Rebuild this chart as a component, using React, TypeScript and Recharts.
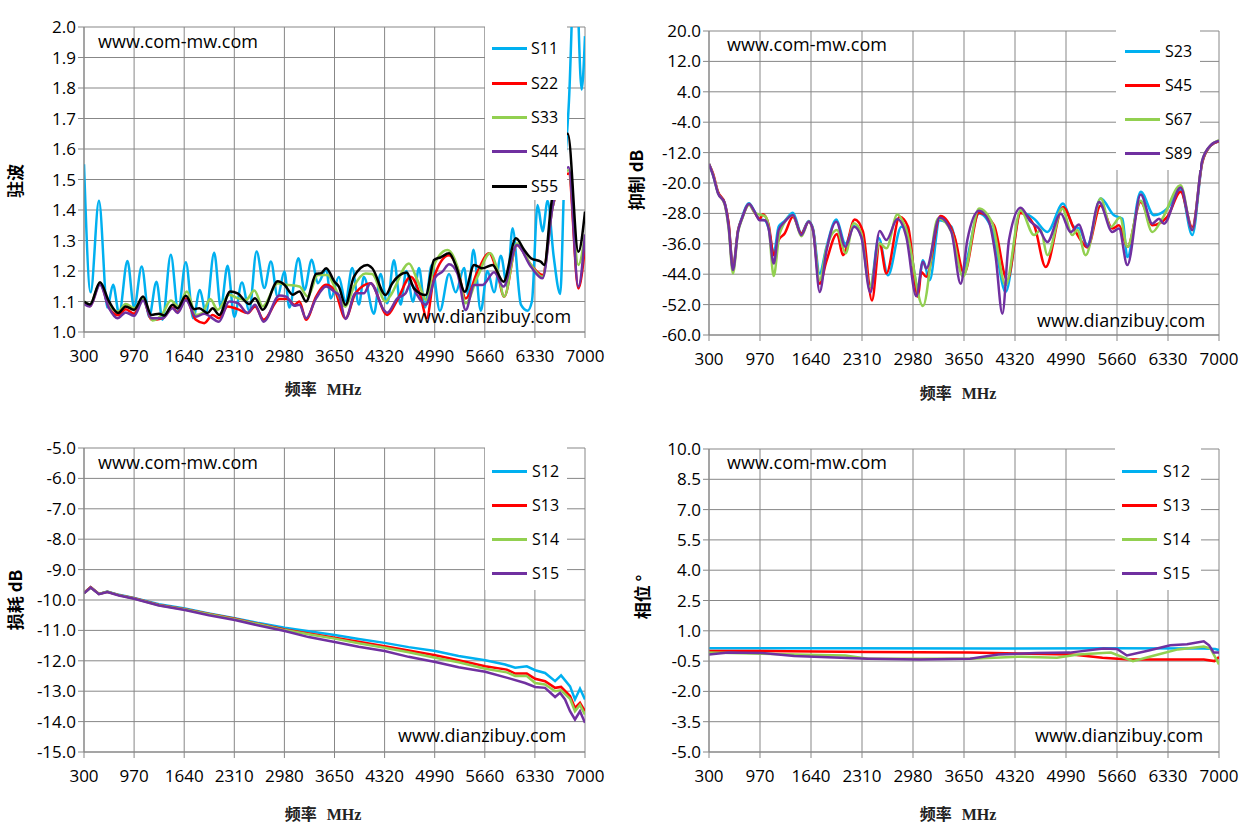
import React from "react"
import { LineChart, Line, XAxis, YAxis, CartesianGrid } from "recharts"

// frequency axis (MHz)
const freqTicks = [300, 970, 1640, 2310, 2980, 3650, 4320, 4990, 5660, 6330, 7000]

// --- VSWR (top left) ---
const vswrTicks = [1.0, 1.1, 1.2, 1.3, 1.4, 1.5, 1.6, 1.7, 1.8, 1.9, 2.0]
const s11Freq = [300,389,500,612,689,770,881,970,1072,1171,1269,1350,1461,1560,1662,1760,1850,1930,2041,2130,2220,2310,2412,2510,2608,2711,2800,2889,2980,3047,3168,3248,3346,3427,3540,3600,3708,3797,3887,3976,4043,4177,4266,4355,4445,4534,4610,4700,4780,4860,4950,5060,5182,5271,5383,5440,5508,5606,5695,5785,5874,5960,6031,6143,6232,6290,6366,6433,6500,6580,6669,6720,6786,6870,6955,7000]
const s11Vswr = [1.55,1.13,1.43,1.08,1.155,1.06,1.233,1.08,1.215,1.05,1.165,1.04,1.253,1.07,1.229,1.045,1.138,1.06,1.26,1.08,1.217,1.05,1.162,1.07,1.264,1.144,1.231,1.115,1.198,1.08,1.242,1.138,1.237,1.16,1.205,1.11,1.18,1.10,1.21,1.09,1.18,1.06,1.19,1.094,1.235,1.09,1.20,1.10,1.21,1.08,1.22,1.07,1.19,1.13,1.21,1.12,1.27,1.07,1.2,1.13,1.25,1.15,1.34,1.09,1.07,1.1,1.416,1.33,1.43,1.25,1.125,1.48,1.76,2.25,1.795,1.97]
const s22Freq = [300,380,514,635,756,858,970,1090,1202,1350,1484,1551,1662,1796,1908,2020,2105,2221,2354,2489,2587,2703,2913,3025,3114,3181,3270,3404,3538,3650,3797,3931,4132,4355,4490,4668,4802,4883,4981,5182,5294,5405,5562,5718,5830,5919,6089,6277,6433,6567,6781,6911,7000]
const s22Vswr = [1.095,1.085,1.16,1.08,1.055,1.075,1.06,1.11,1.04,1.045,1.08,1.065,1.11,1.04,1.029,1.056,1.045,1.084,1.075,1.062,1.084,1.04,1.108,1.108,1.089,1.10,1.04,1.116,1.155,1.138,1.045,1.127,1.16,1.056,1.105,1.181,1.116,1.045,1.18,1.252,1.209,1.11,1.198,1.258,1.192,1.116,1.285,1.22,1.187,1.41,1.52,1.143,1.28]
const s33Freq = [300,380,514,635,756,858,970,1090,1216,1350,1461,1560,1676,1796,1880,1988,2087,2243,2354,2467,2578,2690,2891,3003,3181,3293,3427,3560,3650,3797,3909,4066,4155,4333,4400,4646,4758,4883,4981,5160,5294,5405,5562,5731,5830,5919,6089,6277,6433,6567,6781,6911,7000]
const s33Vswr = [1.10,1.09,1.16,1.09,1.067,1.092,1.078,1.11,1.038,1.06,1.103,1.084,1.133,1.056,1.062,1.108,1.073,1.122,1.111,1.105,1.136,1.084,1.16,1.155,1.149,1.116,1.187,1.187,1.149,1.083,1.149,1.192,1.19,1.10,1.12,1.225,1.17,1.105,1.22,1.269,1.214,1.094,1.181,1.258,1.203,1.116,1.29,1.22,1.181,1.41,1.53,1.22,1.32]
const s44Freq = [300,380,514,635,747,858,970,1090,1202,1350,1484,1551,1662,1796,1908,2105,2243,2354,2489,2587,2703,2913,3003,3114,3181,3270,3404,3538,3650,3708,3797,3931,4043,4132,4311,4355,4490,4601,4668,4735,4870,5003,5093,5182,5294,5405,5517,5629,5785,5910,6089,6277,6433,6567,6781,6911,7000]
const s44Vswr = [1.092,1.084,1.155,1.078,1.045,1.064,1.053,1.103,1.045,1.045,1.078,1.062,1.105,1.05,1.06,1.034,1.10,1.095,1.062,1.089,1.034,1.12,1.116,1.086,1.089,1.045,1.11,1.149,1.132,1.121,1.043,1.127,1.127,1.16,1.072,1.063,1.11,1.127,1.16,1.13,1.089,1.181,1.198,1.222,1.192,1.072,1.154,1.154,1.196,1.149,1.285,1.214,1.176,1.41,1.54,1.149,1.32]
const s55Freq = [300,380,514,635,756,858,970,1090,1202,1305,1372,1484,1551,1662,1774,1841,1953,2020,2109,2256,2354,2511,2587,2690,2891,2980,3092,3181,3270,3404,3471,3538,3650,3708,3797,3909,4088,4155,4333,4423,4615,4713,4870,4981,5070,5182,5285,5392,5517,5629,5763,5910,6076,6187,6277,6410,6455,6544,6770,6911,7000]
const s55Vswr = [1.10,1.09,1.163,1.10,1.062,1.084,1.073,1.116,1.056,1.06,1.054,1.089,1.078,1.119,1.075,1.078,1.062,1.078,1.056,1.133,1.127,1.092,1.111,1.073,1.166,1.155,1.122,1.133,1.10,1.191,1.193,1.209,1.165,1.149,1.089,1.181,1.22,1.209,1.121,1.16,1.195,1.143,1.121,1.236,1.245,1.258,1.209,1.132,1.22,1.209,1.22,1.165,1.307,1.269,1.242,1.23,1.22,1.41,1.65,1.263,1.395]

// --- rejection dB (top right) ---
const rejTicks = [-60, -52, -44, -36, -28, -20, -12, -4, 4, 12, 20]
const s23Freq = [300,353,418,506,558,615,681,734,826,900,966,1031,1084,1150,1215,1294,1403,1513,1609,1666,1754,1841,1973,2091,2205,2301,2419,2530,2652,2827,2892,3046,3111,3199,3330,3483,3630,3847,4022,4197,4394,4570,4745,4951,5090,5161,5270,5446,5621,5731,5796,5971,6146,6321,6496,6649,6781,6890,7000]
const s23Db = [-15,-17.9,-22.5,-25.2,-31,-42,-32.5,-29,-25.3,-27.5,-29.6,-29.8,-32,-38.5,-31.5,-30,-27.8,-33.2,-30,-32,-43.8,-37,-29.6,-36,-31.3,-34,-47.3,-34.5,-44.3,-31.5,-31.7,-47.3,-40.3,-45.6,-29.8,-31.5,-43,-28,-32.4,-48.7,-27.6,-29.4,-32.9,-25.4,-31.5,-31.9,-36.3,-24.1,-28.5,-29.4,-39.5,-22.3,-28.5,-26.7,-21.7,-33.7,-14.5,-10.2,-9.0]
const s45Freq = [300,353,418,506,558,615,681,734,826,900,966,1009,1084,1150,1215,1294,1403,1513,1609,1666,1754,1841,1982,2060,2214,2323,2441,2542,2630,2805,2915,3046,3089,3155,3339,3527,3650,3847,4044,4219,4394,4570,4723,4951,5095,5182,5270,5446,5599,5686,5796,5971,6124,6321,6496,6649,6781,6890,7000]
const s45Db = [-15,-17.5,-22.3,-25.3,-30.5,-42.5,-32.5,-29.3,-25.6,-27.8,-29.5,-28.2,-31,-39,-35,-33.3,-28.9,-33.3,-30.2,-32.4,-46.5,-40.7,-33.4,-39,-29.6,-32.8,-50.9,-35.9,-43.8,-28.9,-31.5,-50,-43.4,-44.7,-28.7,-34.2,-43.8,-27.8,-31.1,-45.6,-27.9,-31.1,-42.1,-26.3,-32,-35,-37,-25.9,-32,-31.1,-36.8,-25,-31.1,-28.9,-22.3,-31.6,-14.5,-10.2,-9.0]
const s67Freq = [300,353,418,506,558,615,681,734,826,900,1044,1084,1150,1228,1403,1513,1609,1666,1754,1841,1982,2095,2201,2301,2411,2542,2630,2774,2892,3111,3309,3483,3637,3847,4022,4197,4394,4570,4657,4745,4941,5073,5138,5248,5446,5577,5700,5796,5971,6124,6255,6496,6649,6781,6890,7000]
const s67Db = [-15,-17.8,-22.6,-25.6,-32,-43.8,-33,-29.5,-25.7,-27.8,-28.9,-31.5,-44.5,-33.3,-28.5,-34,-30.2,-32.4,-45.6,-37.4,-32.4,-38.5,-30.6,-33.3,-47.3,-35.9,-37.2,-28.3,-32.4,-52.4,-29.3,-32.8,-44.7,-26.7,-30.6,-46.9,-27.2,-33.7,-32.4,-39,-26.7,-33.7,-32.4,-39,-24.1,-31.6,-29.1,-36.8,-24.7,-32.9,-29.4,-20.6,-32.4,-14,-10.1,-8.7]
const s89Freq = [300,353,418,506,558,615,681,734,826,900,966,1031,1084,1150,1215,1294,1403,1513,1609,1666,1754,1841,1973,2091,2205,2301,2419,2542,2630,2774,2892,3024,3111,3155,3330,3483,3606,3694,3847,3978,4066,4154,4241,4394,4526,4635,4745,4920,5051,5161,5270,5424,5599,5686,5796,5971,6124,6212,6277,6496,6649,6781,6890,7000]
const s89Db = [-15,-17.9,-22.7,-25.4,-31.5,-42.9,-32.8,-29.3,-25.5,-27.6,-29.8,-29.8,-32,-41.2,-32.4,-30.2,-28.4,-33.7,-30.2,-32.4,-48.7,-38.1,-30.2,-36.8,-31.5,-34.2,-48.9,-32.6,-35,-29.5,-34.2,-49.8,-40.7,-42.5,-29.1,-32.8,-46.5,-35,-27.3,-30.2,-39.4,-54.4,-35,-26.5,-30.2,-32,-35.5,-28,-32.9,-30.9,-36.8,-25,-32.9,-32,-41.6,-23,-30.7,-29.4,-30.7,-21.2,-32.4,-14,-10.1,-8.9]

// --- insertion loss dB (bottom left) ---
const lossTicks = [-15, -14, -13, -12, -11, -10, -9, -8, -7, -6, -5]
const loss12Freq = [300,389,500,612,767,970,1302,1649,1970,2317,2637,2985,3305,3652,3973,4320,4641,4997,5309,5665,5932,6066,6222,6333,6466,6600,6680,6800,6866,6933,7000]
const loss12Db = [-9.77,-9.58,-9.8,-9.72,-9.83,-9.93,-10.14,-10.28,-10.44,-10.6,-10.76,-10.91,-11.03,-11.15,-11.28,-11.41,-11.55,-11.68,-11.84,-11.98,-12.12,-12.23,-12.18,-12.31,-12.4,-12.67,-12.48,-12.84,-13.27,-12.92,-13.27]
const loss13Freq = [300,389,500,612,767,970,1302,1649,1970,2317,2637,2985,3305,3652,3973,4320,4641,4997,5309,5665,5954,6066,6222,6333,6466,6600,6680,6800,6866,6933,7000]
const loss13Db = [-9.77,-9.58,-9.8,-9.73,-9.84,-9.94,-10.16,-10.3,-10.46,-10.62,-10.79,-10.97,-11.1,-11.24,-11.37,-11.52,-11.66,-11.82,-11.98,-12.18,-12.29,-12.42,-12.42,-12.59,-12.67,-12.89,-12.86,-13.16,-13.55,-13.38,-13.66]
const loss14Freq = [300,389,500,612,767,970,1302,1649,1970,2317,2637,2985,3305,3652,3973,4320,4641,4997,5309,5665,5954,6066,6222,6333,6466,6600,6680,6800,6866,6933,7000]
const loss14Db = [-9.78,-9.59,-9.8,-9.73,-9.84,-9.95,-10.17,-10.31,-10.47,-10.63,-10.8,-10.99,-11.13,-11.27,-11.42,-11.57,-11.72,-11.9,-12.05,-12.26,-12.38,-12.5,-12.5,-12.73,-12.78,-13.0,-12.97,-13.25,-13.66,-13.45,-13.77]
const loss15Freq = [300,389,500,612,767,970,1302,1649,1970,2317,2637,2985,3305,3652,3973,4320,4641,4997,5309,5665,5976,6199,6333,6466,6600,6666,6733,6800,6866,6933,7000]
const loss15Db = [-9.78,-9.59,-9.81,-9.74,-9.85,-9.96,-10.18,-10.33,-10.5,-10.66,-10.84,-11.02,-11.22,-11.38,-11.54,-11.68,-11.87,-12.04,-12.21,-12.36,-12.57,-12.73,-12.86,-12.89,-13.19,-13.05,-13.27,-13.66,-13.93,-13.66,-14.04]

// --- phase deg (bottom right) ---
const phaseTicks = [-5, -3.5, -2, -0.5, 1, 2.5, 4, 5.5, 7, 8.5, 10]
const ph12Freq = [300, 2000, 4000, 5600, 6800, 6950, 7000]
const ph12Deg = [0.13, 0.13, 0.12, 0.13, 0.12, 0.1, 0.05]
const ph13Freq = [300, 1000, 2390, 3730, 5070, 5470, 5820, 6800, 6940, 7000]
const ph13Deg = [0.0, 0.0, -0.05, -0.08, -0.17, -0.33, -0.42, -0.42, -0.5, -0.3]
const ph14Freq = [300, 1000, 1420, 2090, 2390, 3730, 4400, 4870, 5150, 5580, 5870, 6150, 6460, 6800, 6890, 7000]
const ph14Deg = [-0.08, -0.13, -0.17, -0.22, -0.38, -0.38, -0.28, -0.33, -0.17, -0.08, -0.5, -0.22, 0.08, 0.22, 0.12, -0.67]
const ph15Freq = [300, 550, 1000, 1420, 2390, 3060, 3730, 4100, 4600, 5040, 5480, 5660, 5790, 6050, 6360, 6580, 6800, 6870, 6930, 7000]
const ph15Deg = [-0.17, -0.08, -0.1, -0.25, -0.38, -0.42, -0.38, -0.17, -0.1, -0.08, 0.12, 0.1, -0.22, 0.0, 0.28, 0.33, 0.48, 0.28, -0.08, -0.08]

const BLUE = "#00B0F0"
const RED = "#FF0000"
const GREEN = "#92D050"
const PURPLE = "#7030A0"
const BLACK = "#000000"
const GRID = "#878787"
const FONT = "'Open Sans', 'Noto Sans', sans-serif"
const CJK = "'Noto Sans CJK SC', sans-serif"

type Pt = { f: number; v: number }
type Series = { name: string; color: string; data: Pt[] }

const zip = (f: number[], v: number[]): Pt[] => f.map((x, i) => ({ f: x, v: v[i] }))

const AXW = 80
const TOPPAD = 20

function Panel(props: {
  plotLeft: number
  plotTop: number
  plotW: number
  plotH: number
  yDomain: [number, number]
  yTicks: number[]
  series: Series[]
  curve: "monotone" | "linear"
}) {
  const { plotLeft, plotTop, plotW, plotH, yDomain, yTicks, series, curve } = props
  return (
    <div style={{ position: "absolute", left: plotLeft - AXW, top: plotTop - TOPPAD }}>
      <LineChart width={AXW + plotW + 22} height={TOPPAD + plotH + 45} margin={{ top: TOPPAD, right: 22, bottom: 0, left: 0 }}>
        <CartesianGrid stroke={GRID} strokeWidth={1} />
        <XAxis
          type="number"
          dataKey="f"
          domain={[300, 7000]}
          ticks={freqTicks}
          interval={0}
          height={45}
          tickSize={6}
          tickMargin={12}
          axisLine={{ stroke: GRID }}
          tickLine={{ stroke: GRID }}
          tick={{ fill: "#000", fontSize: 17, fontFamily: FONT }}
          allowDataOverflow
        />
        <YAxis
          type="number"
          domain={yDomain}
          ticks={yTicks}
          interval={0}
          width={AXW}
          tickSize={6}
          tickMargin={2}
          tickFormatter={(v: number) => v.toFixed(1)}
          axisLine={{ stroke: GRID }}
          tickLine={{ stroke: GRID }}
          tick={{ fill: "#000", fontSize: 17, fontFamily: FONT }}
          allowDataOverflow
        />
        {series.map((s) => (
          <Line
            key={s.name}
            data={s.data}
            dataKey="v"
            type={curve}
            stroke={s.color}
            strokeWidth={2.5}
            dot={false}
            activeDot={false}
            isAnimationActive={false}
          />
        ))}
      </LineChart>
    </div>
  )
}

function LegendBox(props: { left: number; top: number; width: number; height: number; lineX: number; textX: number; ys: number[]; series: Series[] }) {
  const { left, top, width, height, lineX, textX, ys, series } = props
  return (
    <div style={{ position: "absolute", left, top, width, height, background: "#fff" }}>
      {series.map((s, i) => (
        <React.Fragment key={s.name}>
          <div style={{ position: "absolute", left: lineX - left, top: ys[i] - top - 1.5, width: 35, height: 3, background: s.color }} />
          <div style={{ position: "absolute", left: textX - left, top: ys[i] - top - 12, height: 24, lineHeight: "24px", fontFamily: FONT, fontSize: 16, color: "#000" }}>
            {s.name}
          </div>
        </React.Fragment>
      ))}
    </div>
  )
}

function Txt(props: { x: number; y: number; size?: number; children: React.ReactNode; rotate?: boolean; family?: string; weight?: number }) {
  const { x, y, size = 18, children, rotate, family = FONT, weight = 400 } = props
  return (
    <div
      style={{
        position: "absolute",
        left: x,
        top: y,
        transform: rotate ? "translate(-50%, -50%) rotate(-90deg)" : "translate(0, -50%)",
        whiteSpace: "nowrap",
        fontFamily: family,
        fontSize: size,
        fontWeight: weight,
        color: "#000",
        lineHeight: 1.2,
      }}
    >
      {children}
    </div>
  )
}

function FreqTitle(props: { x: number; y: number }) {
  return (
    <div style={{ position: "absolute", left: props.x, top: props.y, transform: "translate(-50%, -50%)", whiteSpace: "nowrap", fontSize: 16, fontWeight: 700, color: "#222" }}>
      <span style={{ fontFamily: CJK }}>频率</span>
      <span style={{ fontFamily: "'Liberation Serif', serif", marginLeft: 10 }}>MHz</span>
    </div>
  )
}

export default function App() {
  const vswrSeries: Series[] = [
    { name: "S11", color: BLUE, data: zip(s11Freq, s11Vswr) },
    { name: "S22", color: RED, data: zip(s22Freq, s22Vswr) },
    { name: "S33", color: GREEN, data: zip(s33Freq, s33Vswr) },
    { name: "S44", color: PURPLE, data: zip(s44Freq, s44Vswr) },
    { name: "S55", color: BLACK, data: zip(s55Freq, s55Vswr) },
  ]
  const rejSeries: Series[] = [
    { name: "S23", color: BLUE, data: zip(s23Freq, s23Db) },
    { name: "S45", color: RED, data: zip(s45Freq, s45Db) },
    { name: "S67", color: GREEN, data: zip(s67Freq, s67Db) },
    { name: "S89", color: PURPLE, data: zip(s89Freq, s89Db) },
  ]
  const lossSeries: Series[] = [
    { name: "S12", color: BLUE, data: zip(loss12Freq, loss12Db) },
    { name: "S13", color: RED, data: zip(loss13Freq, loss13Db) },
    { name: "S14", color: GREEN, data: zip(loss14Freq, loss14Db) },
    { name: "S15", color: PURPLE, data: zip(loss15Freq, loss15Db) },
  ]
  const phaseSeries: Series[] = [
    { name: "S12", color: BLUE, data: zip(ph12Freq, ph12Deg) },
    { name: "S13", color: RED, data: zip(ph13Freq, ph13Deg) },
    { name: "S14", color: GREEN, data: zip(ph14Freq, ph14Deg) },
    { name: "S15", color: PURPLE, data: zip(ph15Freq, ph15Deg) },
  ]

  return (
    <div style={{ position: "absolute", left: 0, top: 0, width: 1250, height: 833, background: "#fff", overflow: "hidden" }}>
      {/* top left: VSWR */}
      <Panel plotLeft={84} plotTop={27} plotW={501} plotH={305} yDomain={[1, 2]} yTicks={vswrTicks} series={vswrSeries} curve="monotone" />
      <LegendBox left={485} top={26} width={82} height={174} lineX={492} textX={531} ys={[48, 83, 117, 151, 186]} series={vswrSeries} />
      <Txt x={98} y={42}>www.com-mw.com</Txt>
      <Txt x={403} y={317}>www.dianzibuy.com</Txt>
      <Txt x={15} y={181} size={17} family={CJK} weight={700} rotate>驻波</Txt>
      <FreqTitle x={323} y={388} />

      {/* top right: rejection */}
      <Panel plotLeft={709} plotTop={31} plotW={510} plotH={304} yDomain={[-60, 20]} yTicks={rejTicks} series={rejSeries} curve="monotone" />
      <LegendBox left={1116} top={30} width={84} height={140} lineX={1125} textX={1165} ys={[51, 85, 119, 153]} series={rejSeries} />
      <Txt x={727} y={45}>www.com-mw.com</Txt>
      <Txt x={1037} y={321}>www.dianzibuy.com</Txt>
      <Txt x={636} y={180} size={17} family={CJK} weight={700} rotate>抑制 dB</Txt>
      <FreqTitle x={958} y={392} />

      {/* bottom left: insertion loss */}
      <Panel plotLeft={84} plotTop={448} plotW={501} plotH={304} yDomain={[-15, -5]} yTicks={lossTicks} series={lossSeries} curve="linear" />
      <LegendBox left={485} top={447} width={82} height={143} lineX={492} textX={532} ys={[471, 505, 539, 573]} series={lossSeries} />
      <Txt x={98} y={463}>www.com-mw.com</Txt>
      <Txt x={398} y={736}>www.dianzibuy.com</Txt>
      <Txt x={15} y={600} size={17} family={CJK} weight={700} rotate>损耗 dB</Txt>
      <FreqTitle x={323} y={813} />

      {/* bottom right: phase */}
      <Panel plotLeft={709} plotTop={449} plotW={510} plotH={303} yDomain={[-5, 10]} yTicks={phaseTicks} series={phaseSeries} curve="linear" />
      <LegendBox left={1115} top={448} width={86} height={142} lineX={1122} textX={1163} ys={[471, 505, 539, 573]} series={phaseSeries} />
      <Txt x={727} y={463}>www.com-mw.com</Txt>
      <Txt x={1035} y={736}>www.dianzibuy.com</Txt>
      <Txt x={642} y={597} size={17} family={CJK} weight={700} rotate>相位 °</Txt>
      <FreqTitle x={958} y={813} />
    </div>
  )
}
